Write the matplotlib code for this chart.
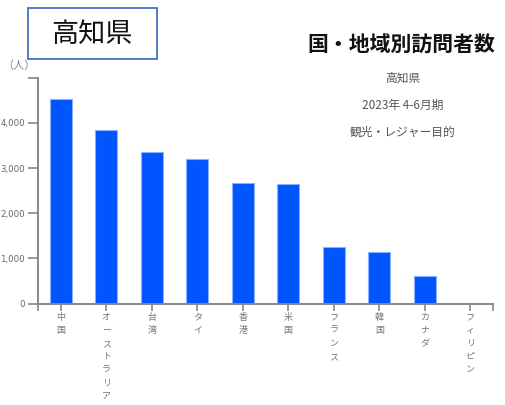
import matplotlib.pyplot as plt
from matplotlib.patches import Rectangle

plt.rcParams['font.family'] = ['Noto Sans CJK JP', 'DejaVu Sans']

countries = ["中国", "オーストラリア", "台湾", "タイ", "香港", "米国", "フランス", "韓国", "カナダ", "フィリピン"]
visitors = [4520, 3840, 3360, 3200, 2670, 2650, 1260, 1150, 600, 0]
yticks = [0, 1000, 2000, 3000, 4000]
ytick_labels = ["0", "1,000", "2,000", "3,000", "4,000"]

W, H = 505, 405
fig = plt.figure(figsize=(W / 100, H / 100), dpi=100)
ax = fig.add_axes([38 / W, (H - 303.5) / H, (493 - 38) / W, (303.5 - 77.7) / H])

x = list(range(len(countries)))
ax.bar(x, visitors, width=0.48, color='#0055ff', edgecolor='#8ab0ff', linewidth=0.8)
ax.set_xlim(-0.5, len(countries) - 0.5)
ax.set_ylim(0, 5000)

grey = '#888888'
for s in ['top', 'right']:
    ax.spines[s].set_visible(False)
for s in ['left', 'bottom']:
    ax.spines[s].set_color(grey)
    ax.spines[s].set_linewidth(1.4)

ax.set_yticks(yticks)
ax.set_yticklabels(ytick_labels, family='DejaVu Sans')
ax.set_yticks([5000], minor=True)
ax.tick_params(axis='y', which='both', length=7, width=1.2, color=grey,
               labelcolor='#666666', labelsize=6.2, pad=2.5)

ax.set_xticks(x)
ax.set_xticklabels(["\n".join(c) for c in countries], va='top', linespacing=1.6)
ax.set_xticks([-0.5, len(countries) - 0.5], minor=True)
ax.tick_params(axis='x', which='both', length=5, width=1.2, color=grey,
               labelcolor='#777777', labelsize=6.5, pad=1.5)

fig.text(19 / W, 1 - 66 / H, "（人）", ha='center', va='center', fontsize=8, color='#888888')

fig.patches.append(Rectangle((28 / W, 1 - 59 / H), 129 / W, 51 / H, transform=fig.transFigure,
                             fill=False, edgecolor='#4472c4', linewidth=1.3))
fig.text(92 / W, 1 - 34 / H, "高知県", ha='center', va='center', fontsize=19.5, color='#111111')

fig.text(401 / W, 1 - 45 / H, "国・地域別訪問者数", ha='center', va='center',
         fontsize=15, fontweight='bold', color='#111111')
fig.text(403 / W, 1 - 78 / H, "高知県", ha='center', va='center', fontsize=8.5, color='#555555')
fig.text(403 / W, 1 - 105 / H, "2023年 4-6月期", ha='center', va='center', fontsize=8.5, color='#555555')
fig.text(403 / W, 1 - 132 / H, "観光・レジャー目的", ha='center', va='center', fontsize=8.5, color='#555555')

fig.savefig("out.png", dpi=100)
